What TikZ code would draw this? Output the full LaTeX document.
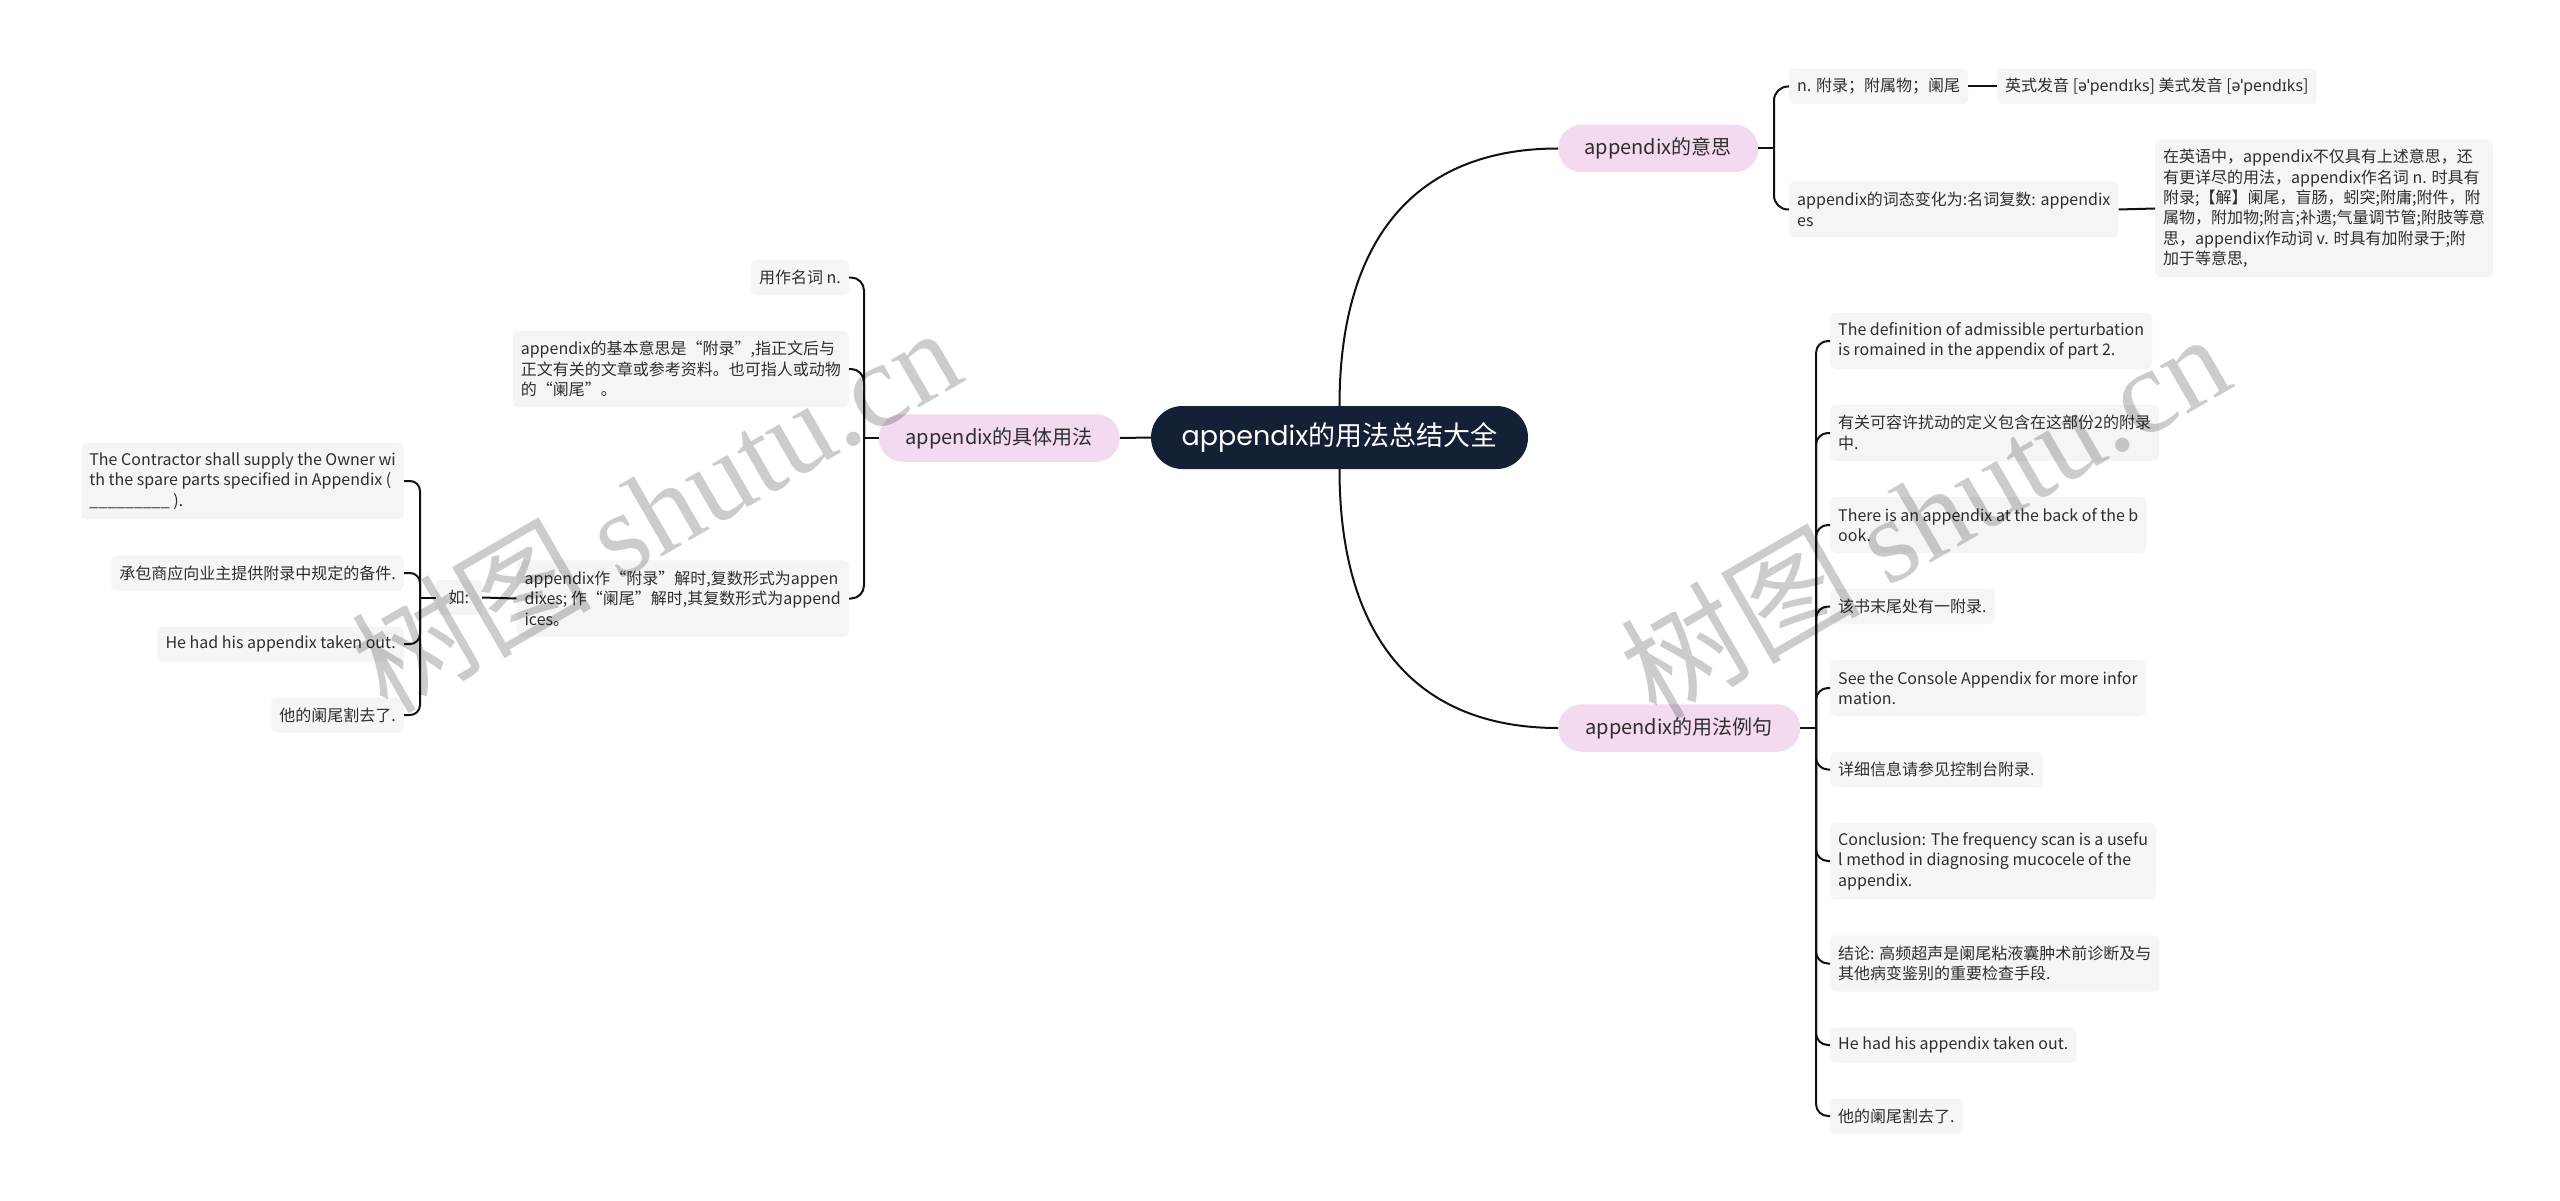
\documentclass[tikz,border=0pt]{standalone}
\usepackage{fontspec}
\setmainfont{Noto Sans CJK SC}
\newfontfamily\ipafont{Noto Sans}
\newfontfamily\rootlat{Poppins}
\newfontfamily\wmlat{Liberation Serif}
\usetikzlibrary{calc}
\definecolor{rootc}{HTML}{142035}
\definecolor{pinkc}{HTML}{F3DAEE}
\definecolor{boxc}{HTML}{F5F5F5}
\definecolor{txtc}{HTML}{2E2E2E}
\definecolor{linec}{HTML}{111111}
\newcommand{\ipa}[1]{{\ipafont #1}}
\begin{document}
\begin{tikzpicture}[x=1pt,y=-1pt,
  conn/.style={draw=linec, line width=2pt},
  box/.style={fill=boxc, rounded corners=5pt, inner xsep=8pt, inner ysep=4pt, align=left, text=txtc, font=\fontsize{16}{20.4}\selectfont},
  hone/.style={minimum height=35pt},
  htwo/.style={minimum height=56pt},
  hthree/.style={minimum height=76.5pt},
  hsix/.style={minimum height=137.5pt},
  pink/.style={fill=pinkc, rounded corners=23.5pt, minimum height=47.5pt, inner xsep=10pt, inner ysep=4pt, text=txtc, font=\fontsize{20}{24}\selectfont},
  wm/.style={rotate=30, text=black, text opacity=0.2, font=\fontsize{120}{130}\selectfont}
]
\useasboundingbox[fill=white] (0,0) rectangle (2560,1201);

% root and main topics
\node[fill=rootc, rounded corners=31.5pt, minimum width=377pt, minimum height=63pt, text=white, font=\fontsize{27}{32}\selectfont] (root) at (1339.5,437.5) {{\rootlat appendix}的用法总结大全};
\node[pink, anchor=west, minimum width=200pt] (pm) at (1558,148.5) {appendix的意思};
\node[pink, anchor=west, minimum width=242pt] (pu) at (1558,728) {appendix的用法例句};
\node[pink, anchor=east, minimum width=241pt] (pl) at (1120,438) {appendix的具体用法};

% meaning branch
\node[box, hone, anchor=west] (r1) at (1789,86.5) {n. 附录；附属物；阑尾};
\node[box, hone, anchor=west] (r1a) at (1997,86.5) {英式发音 [\ipa{əˈpendɪks}] 美式发音 [\ipa{əˈpendɪks}]};
\node[box, htwo, anchor=west] (r2) at (1789,209.5) {appendix的词态变化为:名词复数: appendix\\es};
\node[box, hsix, anchor=west] (r2a) at (2155,208.5) {在英语中，appendix不仅具有上述意思，还\\有更详尽的用法，appendix作名词 n. 时具有\\附录;【解】阑尾，盲肠，蚓突;附庸;附件，附\\属物，附加物;附言;补遗;气量调节管;附肢等意\\思，appendix作动词 v. 时具有加附录于;附\\加于等意思,};

% example branch
\node[box, htwo, anchor=west] (e1) at (1830,341) {The definition of admissible perturbation\\is romained in the appendix of part 2.};
\node[box, htwo, anchor=west] (e2) at (1830,433) {有关可容许扰动的定义包含在这部份2的附录\\中.};
\node[box, htwo, anchor=west] (e3) at (1830,525) {There is an appendix at the back of the b\\ook.};
\node[box, hone, anchor=west] (e4) at (1830,606.5) {该书末尾处有一附录.};
\node[box, htwo, anchor=west] (e5) at (1830,688) {See the Console Appendix for more infor\\mation.};
\node[box, hone, anchor=west] (e6) at (1830,769.5) {详细信息请参见控制台附录.};
\node[box, hthree, anchor=west] (e7) at (1830,861) {Conclusion: The frequency scan is a usefu\\l method in diagnosing mucocele of the\\appendix.};
\node[box, htwo, anchor=west] (e8) at (1830,963.5) {结论: 高频超声是阑尾粘液囊肿术前诊断及与\\其他病变鉴别的重要检查手段.};
\node[box, hone, anchor=west] (e9) at (1830,1045) {He had his appendix taken out.};
\node[box, hone, anchor=west] (e10) at (1830,1116) {他的阑尾割去了.};

% usage branch
\node[box, hone, anchor=east] (l1) at (849,277.5) {用作名词 n.};
\node[box, hthree, anchor=east] (l2) at (849,369) {appendix的基本意思是“附录”,指正文后与\\正文有关的文章或参考资料。也可指人或动物\\的“阑尾”。};
\node[box, hthree, anchor=east] (l3) at (849,598.5) {appendix作“附录”解时,复数形式为appen\\dixes; 作“阑尾”解时,其复数形式为append\\ices。};
\node[box, hone, anchor=east, minimum width=46pt] (ru) at (482,597.5) {如:};
\node[box, hthree, anchor=east] (c1) at (404,481) {The Contractor shall supply the Owner wi\\th the spare parts specified in Appendix (\\\_\_\_\_\_\_\_\_\_ ).};
\node[box, hone, anchor=east] (c2) at (404,573) {承包商应向业主提供附录中规定的备件.};
\node[box, hone, anchor=east] (c3) at (404,644) {He had his appendix taken out.};
\node[box, hone, anchor=east] (c4) at (404,715) {他的阑尾割去了.};

% connectors
\draw[conn] (root.west) -- (pl.east);
\draw[conn] (root.north) .. controls ($(root.north)!0.65!(root.north|-pm.west)$) and ($(root.north|-pm.west)!0.35!(pm.west)$) .. (pm.west);
\draw[conn] (root.south) .. controls ($(root.south)!0.65!(root.south|-pu.west)$) and ($(root.south|-pu.west)!0.35!(pu.west)$) .. (pu.west);

\coordinate (jm) at (1774,148.5);
\draw[conn] (pm.east) -- (jm);
\foreach \c in {r1,r2} \draw[conn, rounded corners=14pt] (jm) |- (\c.west);
\draw[conn] (r1.east) -- (r1a.west);
\draw[conn] (r2.east) -- (r2a.west);

\coordinate (ju) at (1816,728);
\draw[conn] (pu.east) -- (ju);
\foreach \c in {e1,e2,e3,e4,e5,e6,e7,e8,e9,e10} \draw[conn, rounded corners=12pt] (ju) |- (\c.west);

\coordinate (jl) at (864,438);
\draw[conn] (pl.west) -- (jl);
\foreach \c in {l1,l2,l3} \draw[conn, rounded corners=13pt] (jl) |- (\c.east);
\draw[conn] (l3.west) -- (ru.east);

\coordinate (jr) at (420,597.5);
\draw[conn] (ru.west) -- (jr);
\foreach \c in {c1,c2,c3,c4} \draw[conn, rounded corners=10pt] (jr) |- (\c.east);

% watermarks
\node[wm] (wm1) at (655,508) {树图 {\wmlat shutu.cn}};
\node[wm] (wm2) at (1924,514) {树图 {\wmlat shutu.cn}};
\end{tikzpicture}
\end{document}
